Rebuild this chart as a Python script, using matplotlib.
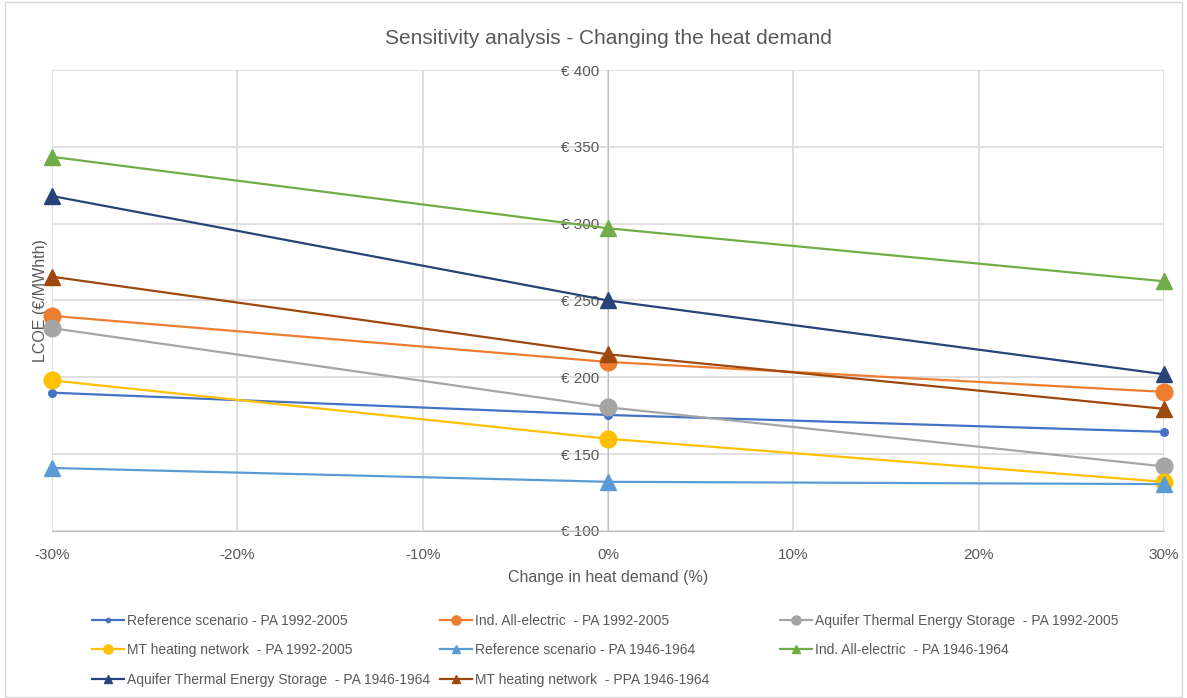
import matplotlib.pyplot as plt
from matplotlib.patches import Rectangle
from matplotlib.ticker import FuncFormatter, MultipleLocator

plt.rcParams['font.family'] = ['Liberation Sans', 'DejaVu Sans']

change = [-30, 0, 30]

ref_9205 = [190, 175.5, 164.5]
allel_9205 = [240, 210, 190.5]
ates_9205 = [232, 180.5, 142]
mt_9205 = [198, 160, 132]
ref_4664 = [141, 132, 130.5]
allel_4664 = [343.5, 297, 262.5]
ates_4664 = [318, 250, 202]
mt_4664 = [265.5, 215, 179.5]

labels = [
    "Reference scenario - PA 1992-2005",
    "Ind. All-electric  - PA 1992-2005",
    "Aquifer Thermal Energy Storage  - PA 1992-2005",
    "MT heating network  - PA 1992-2005",
    "Reference scenario - PA 1946-1964",
    "Ind. All-electric  - PA 1946-1964",
    "Aquifer Thermal Energy Storage  - PA 1946-1964",
    "MT heating network  - PPA 1946-1964",
]
series = [ref_9205, allel_9205, ates_9205, mt_9205,
          ref_4664, allel_4664, ates_4664, mt_4664]
colors = ['#4472C4', '#ED7D31', '#A5A5A5', '#FFC000',
          '#5B9BD5', '#70AD47', '#264478', '#9E480E']
markers = ['o', 'o', 'o', 'o', '^', '^', '^', '^']
sizes = [5.5, 12, 12, 12, 11, 11, 11, 11]

fig = plt.figure(figsize=(11.87, 6.98), dpi=100)
ax = fig.add_axes([0.0438, 0.2393, 0.9368, 0.6604])

handles = []
for y, lab, c, m, s in zip(series, labels, colors, markers, sizes):
    h, = ax.plot(change, y, color=c, lw=1.6, marker=m, ms=s, label=lab, clip_on=False, zorder=3)
    handles.append(h)

ax.set_xlim(-30, 30)
ax.set_ylim(100, 400)
ax.xaxis.set_major_locator(MultipleLocator(10))
ax.yaxis.set_major_locator(MultipleLocator(50))
ax.xaxis.set_major_formatter(FuncFormatter(lambda v, p: f"{v:.0f}%"))
ax.yaxis.set_major_formatter(FuncFormatter(lambda v, p: f"€ {v:.0f}"))
ax.grid(True, color='#D9D9D9', lw=1.2)
ax.set_axisbelow(True)

for side in ['top', 'right']:
    ax.spines[side].set_visible(False)
ax.spines['left'].set_position(('data', 0))
ax.spines['left'].set_color('#BFBFBF')
ax.spines['bottom'].set_color('#BFBFBF')
ax.tick_params(length=0, colors='#595959', labelsize=11)
ax.tick_params(axis='x', pad=12)
ax.tick_params(axis='y', pad=6)

ax.set_title("Sensitivity analysis - Changing the heat demand", fontsize=15,
             color='#595959', pad=19)
ax.set_xlabel("Change in heat demand (%)", fontsize=11.5, color='#595959', labelpad=6)
ax.set_ylabel("LCOE (€/MWhth)", fontsize=11.5, color='#595959')
ax.yaxis.set_label_coords(-0.004, 0.5)

# excel fills the legend row by row, one legend per column here
columns = [[0, 3, 6], [1, 4, 7], [2, 5]]
col_x = [92, 440, 780]
for idx, x0 in zip(columns, col_x):
    fig.legend([handles[i] for i in idx], [labels[i] for i in idx],
               loc='upper left', bbox_to_anchor=(x0 / 1187, 1 - 614 / 698),
               frameon=False, borderpad=0, borderaxespad=0,
               fontsize=10, labelcolor='#595959', handlelength=2.3,
               handletextpad=0.25, labelspacing=1.1, markerscale=0.55)

fig.patches.append(Rectangle((0.004, 0.002), 0.992, 0.995, transform=fig.transFigure,
                             fill=False, edgecolor='#D9D9D9', lw=1))

fig.savefig("out.png", dpi=100)
